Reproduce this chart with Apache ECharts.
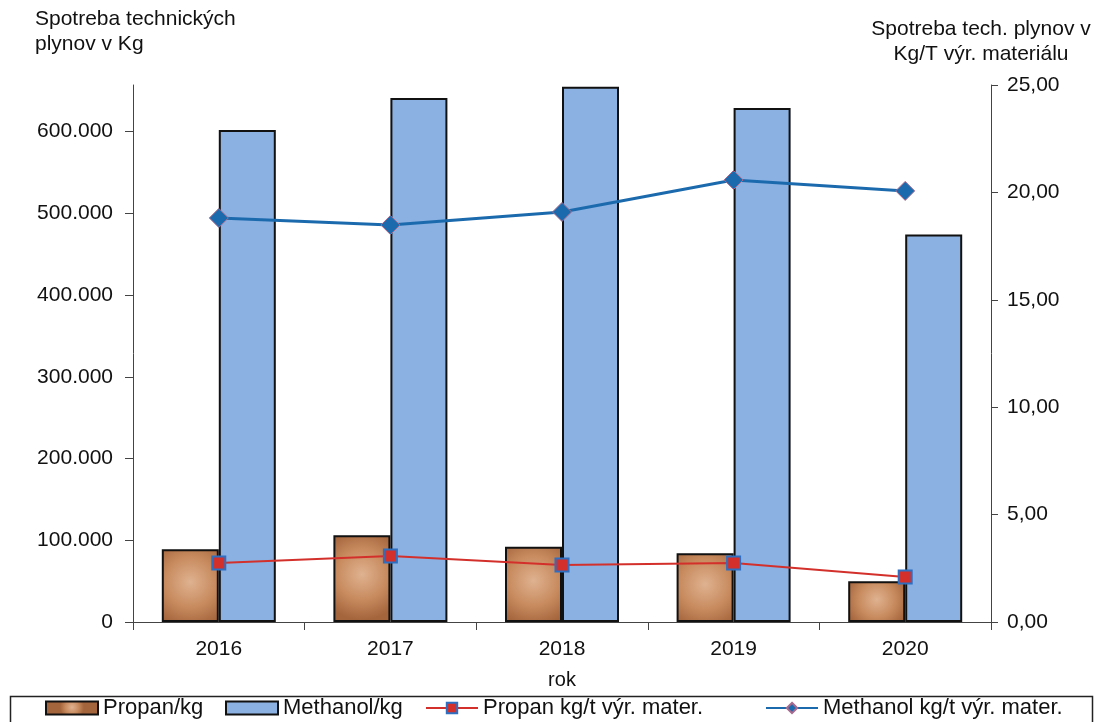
<!DOCTYPE html>
<html lang="sk">
<head>
<meta charset="UTF-8">
<title>Spotreba technických plynov</title>
<script src="https://cdn.jsdelivr.net/npm/echarts@6/dist/echarts.min.js"></script>
<style>
    html, body { margin: 0; padding: 0; background: #fff; }
    #main { width: 1101px; height: 722px; }
</style>
</head>
<body>
<div id="main"></div>
<script>
    // údaje z grafu
    var years = ['2016', '2017', '2018', '2019', '2020'];
    var propanKg = [89000, 106000, 92000, 84000, 50000];
    var methanolKg = [602000, 641000, 655000, 629000, 474000];
    var propanPerT = [2.75, 3.07, 2.65, 2.75, 2.09];
    var methanolPerT = [18.81, 18.48, 19.09, 20.58, 20.07];

    var font = 'Liberation Sans, Arial, sans-serif';
    var myChart = echarts.init(document.getElementById('main'));

    function thousands(v) {
        if (v % 100000 !== 0) return '';
        return String(v).replace(/\B(?=(\d{3})+(?!\d))/g, '.');
    }

    // jedna legenda pre kazdu polozku, aby sedeli pozicie
    function legendItem(name, left, icon) {
        var item = icon ? { name: name, icon: icon } : name;
        return {
            top: 692, left: left,
            itemWidth: 52, itemHeight: 13, itemGap: 0,
            textStyle: { fontSize: 22, fontFamily: font, color: '#111', padding: [0, 0, 0, 0] },
            data: [item]
        };
    }

    var option = {
        animation: false,
        backgroundColor: '#fff',
        textStyle: { fontFamily: font, color: '#111' },
        grid: { left: 133, right: 110, top: 85, bottom: 100 },
        graphic: [
            {
                type: 'text', x: 35, y: 7,
                style: { text: 'Spotreba technických\nplynov v Kg', font: '21px ' + font, fill: '#111', lineHeight: 25 }
            },
            {
                type: 'text', x: 981, y: 17,
                style: { text: 'Spotreba tech. plynov v\nKg/T výr. materiálu', font: '21px ' + font, fill: '#111', lineHeight: 25, align: 'center' }
            },
            {
                type: 'rect', left: 8, top: 694,
                shape: { width: 1082, height: 40 },
                style: { fill: 'none', stroke: '#222', lineWidth: 1.5 }
            }
        ],
        legend: [
            legendItem('Propan/kg', 40, 'rect'),
            legendItem('Methanol/kg', 220, 'rect'),
            legendItem('Propan kg/t výr. mater.', 420),
            legendItem('Methanol kg/t výr. mater.', 760)
        ],
        xAxis: {
            type: 'category',
            data: years,
            name: 'rok',
            nameLocation: 'middle',
            nameGap: 48,
            nameTextStyle: { fontSize: 20, color: '#111' },
            axisLine: { lineStyle: { color: '#444', width: 1 } },
            axisTick: { show: true, length: 8, lineStyle: { color: '#444' } },
            axisLabel: { fontSize: 21, color: '#111', margin: 17 }
        },
        yAxis: [
            {
                type: 'value',
                min: 0, max: 657000, interval: 100000,
                axisLine: { show: true, lineStyle: { color: '#444' } },
                axisTick: { show: true, length: 8, lineStyle: { color: '#444' } },
                splitLine: { show: false },
                axisLabel: { fontSize: 21, color: '#111', margin: 20, formatter: thousands, showMaxLabel: false }
            },
            {
                type: 'value',
                min: 0, max: 25, interval: 5,
                position: 'right',
                axisLine: { show: true, lineStyle: { color: '#444' } },
                axisTick: { show: true, length: 7, lineStyle: { color: '#444' } },
                splitLine: { show: false },
                axisLabel: {
                    fontSize: 21, color: '#111', margin: 16,
                    formatter: function (v) { return v.toFixed(2).replace('.', ','); }
                }
            }
        ],
        series: [
            {
                name: 'Propan/kg',
                type: 'bar',
                data: propanKg,
                barWidth: 57,
                barGap: '0%',
                itemStyle: {
                    color: {
                        type: 'radial', x: 0.5, y: 0.45, r: 0.8,
                        colorStops: [
                            { offset: 0, color: '#dfb290' },
                            { offset: 0.55, color: '#c88b5f' },
                            { offset: 1, color: '#a4643c' }
                        ]
                    },
                    borderColor: '#111',
                    borderWidth: 2
                }
            },
            {
                name: 'Methanol/kg',
                type: 'bar',
                data: methanolKg,
                barWidth: 57,
                barGap: '0%',
                itemStyle: { color: '#8ab1e1', borderColor: '#111', borderWidth: 2 }
            },
            {
                name: 'Propan kg/t výr. mater.',
                type: 'line',
                yAxisIndex: 1,
                data: propanPerT,
                symbol: 'rect',
                symbolSize: 13,
                lineStyle: { color: '#d3302b', width: 2 },
                itemStyle: { color: '#d3302b', borderColor: '#2f6fc2', borderWidth: 2 },
                z: 5
            },
            {
                name: 'Methanol kg/t výr. mater.',
                type: 'line',
                yAxisIndex: 1,
                data: methanolPerT,
                symbol: 'diamond',
                symbolSize: 19,
                lineStyle: { color: '#1c6aae', width: 3 },
                itemStyle: { color: '#1c6aae', borderColor: '#a86a8e', borderWidth: 1 },
                z: 5
            }
        ]
    };

    myChart.setOption(option);
</script>
</body>
</html>
